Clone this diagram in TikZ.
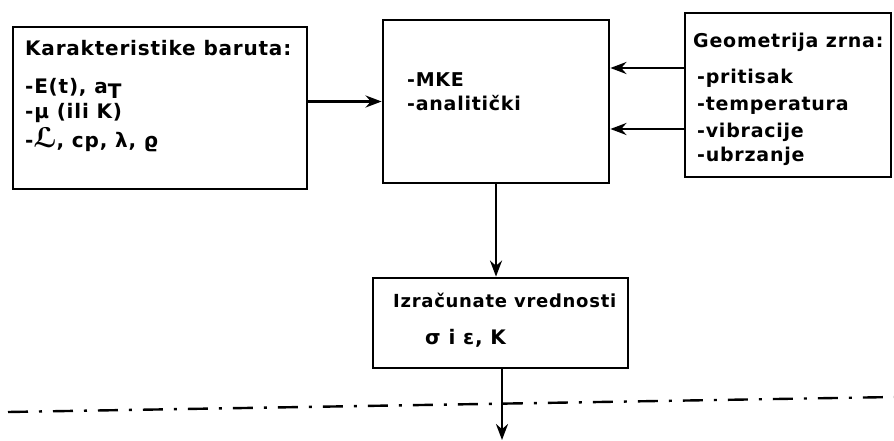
\documentclass[tikz,border=0pt]{standalone}
\usepackage{fontspec}
\setmainfont{DejaVu Sans}[LetterSpace=4]
\usetikzlibrary{arrows.meta,calc}
\begin{document}
\begin{tikzpicture}[x=1pt,y=-1pt,
  box/.style={draw,line width=2.8pt,minimum width=#1,inner sep=0pt},
  txt/.style={anchor=west,inner sep=0pt,font=\fontsize{19}{22}\selectfont\bfseries},
  bigtxt/.style={txt,font=\fontsize{20}{24}\selectfont\bfseries},
  smalltxt/.style={txt,font=\fontsize{18}{22}\selectfont\bfseries},
  conn/.style={line width=2.5pt,-{Stealth[length=16pt,width=12pt]}},
  axisline/.style={line width=2.4pt,dash pattern=on 20pt off 11pt on 3pt off 11pt}]
\useasboundingbox (0,0) rectangle (894,441);
\node[box=294pt,minimum height=162pt] (L) at (160,108) {};
\node[box=226pt,minimum height=163pt] (M) at (496,101.5) {};
\node[box=206pt,minimum height=164pt] (R) at (788,95) {};
\node[box=255pt,minimum height=90pt] (B) at (500.5,323) {};
% left box text
\node[bigtxt] (l1) at (25,48) {Karakteristike baruta:};
\node[bigtxt] (l2) at (25,88) {-E(t), a\raisebox{-5pt}{T}};
\node[bigtxt] (l3) at (25,113) {-μ (ili K)};
\node[bigtxt] (l4) at (25,140) {-\scalebox{1.35}{ℒ}, cp, λ, ϱ};
% middle
\node[txt] (m1) at (407,80) {-MKE};
\node[txt] (m2) at (407,103) {-analitički};
% right
\node[txt] (r1) at (693,42) {Geometrija zrna:};
\node[txt] (r2) at (697,78) {-pritisak};
\node[txt] (r3) at (697,106) {-temperatura};
\node[txt] (r4) at (697,132) {-vibracije};
\node[txt] (r5) at (697,156) {-ubrzanje};
% bottom
\node[smalltxt] (b1) at (393,300) {Izračunate vrednosti};
\node[bigtxt] (b2) at (425,338) {σ i ε, K};
% connectors
\coordinate (ra) at (0,68);
\coordinate (rb) at (0,129);
\draw[conn] (L.east |- M.west) -- (M.west);
\draw[conn] (R.west |- ra) -- (M.east |- ra);
\draw[conn] (R.west |- rb) -- (M.east |- rb);
\draw[conn] (M.south) -- (M.south |- B.north);
\coordinate (end) at (502,440);
\draw[conn] (B.south -| end) -- (end);
\coordinate (dl) at (8,412);
\coordinate (dr) at (894,397);
\draw[axisline] (dl) -- (dr);
\end{tikzpicture}
\end{document}
